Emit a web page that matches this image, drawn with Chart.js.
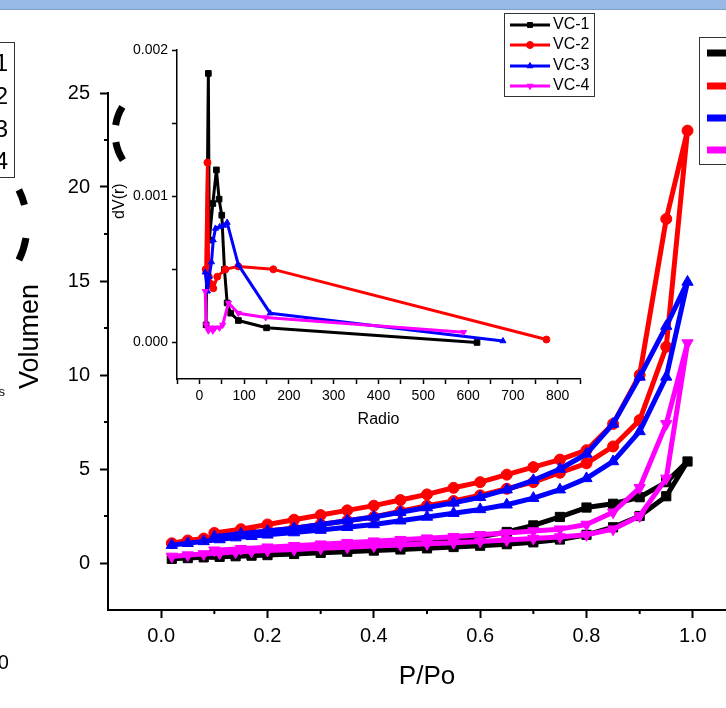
<!DOCTYPE html>
<html>
<head>
<meta charset="utf-8">
<script src="https://cdn.jsdelivr.net/npm/chart.js@4.4.0/dist/chart.umd.min.js"></script>
<style>
  body { margin: 0; width: 726px; height: 708px; overflow: hidden; background: #fff; position: relative;
         font-family: "Liberation Sans", Arial, sans-serif; }
  #bar { position: absolute; left: 0; top: 0; width: 726px; height: 9px; background: #97b9e4;
         border-bottom: 1px solid #7a9fd0; z-index: 10; }
  #main, #deco { position: absolute; left: 0; top: 0; }
  #inset { position: absolute; left: 100px; top: 11px; }
  #sideBox { position: absolute; left: -100px; top: 42px; width: 113px; height: 134px; border: 1px solid #333; }
  .side { position: absolute; left: -100px; width: 108px; text-align: right; font-size: 24px; line-height: 24px; color: #000; }
</style>
</head>
<body>
<div id="bar"></div>
<canvas id="main" width="760" height="708"></canvas>
<canvas id="deco" width="726" height="708"></canvas>
<canvas id="inset" width="500" height="424"></canvas>
<div id="sideBox"></div>
<div class="side" style="top:51px">VC-1</div>
<div class="side" style="top:84px">VC-2</div>
<div class="side" style="top:117px">VC-3</div>
<div class="side" style="top:149px">VC-4</div>
<div class="side" style="top:380px;font-size:13px;width:105px">s</div>
<div class="side" style="top:650px;font-size:20px;width:109px">1.0</div>
<script>
// isoterma: P/Po vs volumen (adsorcion y desorcion)
const pAds = [0.02,0.05,0.08,0.11,0.14,0.17,0.20,0.25,0.30,0.35,0.40,0.45,0.50,0.55,0.60,0.65,0.70,0.75,0.80,0.85,0.90,0.95,0.99];
const pDes = [0.95,0.90,0.85,0.80,0.75,0.70,0.65,0.60,0.55,0.50,0.45,0.40,0.35,0.30,0.25,0.20,0.15,0.10];

const vc1Ads = [0.22,0.26,0.3,0.33,0.36,0.39,0.42,0.48,0.54,0.6,0.66,0.72,0.78,0.85,0.92,1.0,1.1,1.25,1.5,1.9,2.5,3.55,5.4];
const vc1Des = [4.3,3.5,3.15,2.95,2.45,2.0,1.65,1.4,1.25,1.12,1.02,0.93,0.85,0.77,0.69,0.61,0.53,0.45];
const vc2Ads = [1.05,1.2,1.3,1.4,1.5,1.6,1.7,1.85,2.05,2.25,2.45,2.75,3.05,3.3,3.6,3.95,4.3,4.8,5.3,6.2,7.6,11.5,23.0];
const vc2Des = [18.3,10.0,7.4,6.0,5.5,5.1,4.7,4.3,4.0,3.65,3.35,3.05,2.8,2.55,2.3,2.05,1.8,1.6];
const vc3Ads = [0.95,1.05,1.15,1.25,1.35,1.42,1.5,1.62,1.75,1.9,2.05,2.25,2.45,2.65,2.85,3.1,3.45,3.9,4.5,5.4,7.0,9.9,14.95];
const vc3Des = [12.6,9.9,7.4,5.8,5.0,4.4,3.9,3.5,3.2,2.95,2.7,2.45,2.25,2.05,1.85,1.7,1.55,1.4];
const vc4Ads = [0.35,0.42,0.48,0.53,0.58,0.62,0.66,0.72,0.78,0.84,0.9,0.96,1.02,1.08,1.15,1.22,1.3,1.38,1.5,1.8,2.5,4.5,11.7];
const vc4Des = [7.4,4.0,2.7,2.05,1.8,1.7,1.6,1.5,1.4,1.32,1.24,1.16,1.08,1.0,0.92,0.84,0.76,0.68];

// inserto: distribucion de poros dV(r) vs radio
const radio1 = [15,20,22,30,38,44,50,56,62,70,87,150,620];
const dv1 = [0.00012,0.00184,0.0007,0.00095,0.00118,0.00098,0.00087,0.0005,0.00027,0.0002,0.00015,0.0001,0.0];
const radio2 = [14,18,21,26,31,40,58,87,165,775];
const dv2 = [0.0005,0.00123,0.00045,0.0004,0.00037,0.00045,0.0005,0.00052,0.0005,0.00002];
const radio3 = [13,18,22,27,31,36,45,54,62,87,158,678];
const dv3 = [0.00048,0.00035,0.00045,0.00055,0.0007,0.00078,0.00079,0.0008,0.00082,0.00053,0.0002,0.00001];
const radio4 = [13,15,20,25,30,35,45,52,65,87,148,590];
const dv4 = [0.00035,0.00012,0.00008,0.0001,0.00008,0.0001,0.0001,0.00012,0.00027,0.0002,0.00017,0.00007];

const labels = ['VC-1','VC-2','VC-3','VC-4'];
const xTicks = [0,0.2,0.4,0.6,0.8,1.0];
const yTicks = [0,5,10,15,20,25];
const radioTicks = [-50,0,50,100,150,200,250,300,350,400,450,500,550,600,650,700,750,800,850];
const dvTicks = [0,0.0005,0.001,0.0015,0.002];

const colores = ['#000000','#ff0000','#0000ff','#ff00ff'];
const simbolos = ['rect','circle','triangle','triangle'];
const giros = [0,0,0,180];
const orden = [3,2,1,0];

const pares = (xs, ys) => xs.map((x, i) => ({x: x, y: ys[i]}));

const isoterma = [
  pares(pAds, vc1Ads).concat(pares(pDes, vc1Des)),
  pares(pAds, vc2Ads).concat(pares(pDes, vc2Des)),
  pares(pAds, vc3Ads).concat(pares(pDes, vc3Des)),
  pares(pAds, vc4Ads).concat(pares(pDes, vc4Des))
];
const poros = [pares(radio1, dv1), pares(radio2, dv2), pares(radio3, dv3), pares(radio4, dv4)];

// leyenda dibujada a mano
const leyenda = {
  id: 'leyenda',
  afterDraw(chart, args, o) {
    const ctx = chart.ctx;
    ctx.save();
    ctx.strokeStyle = '#333';
    ctx.lineWidth = 1;
    ctx.strokeRect(o.box[0] + 0.5, o.box[1] + 0.5, o.box[2], o.box[3]);
    chart.data.datasets.forEach((ds, i) => {
      const y = o.rows[i];
      ctx.strokeStyle = ds.borderColor;
      ctx.lineWidth = o.lineWidth;
      ctx.beginPath();
      ctx.moveTo(o.line[0], y);
      ctx.lineTo(o.line[1], y);
      ctx.stroke();
      ctx.fillStyle = ds.borderColor;
      ctx.lineWidth = 1;
      Chart.helpers.drawPoint(ctx, {pointStyle: ds.pointStyle, rotation: ds.pointRotation, radius: o.radius, borderWidth: 1},
        (o.line[0] + o.line[1]) / 2, y);
      ctx.fillStyle = '#000';
      ctx.font = o.font;
      ctx.textBaseline = 'middle';
      ctx.fillText(ds.label, o.textX, y);
    });
    ctx.restore();
  }
};

// ticks menores
const menores = {
  id: 'menores',
  afterDraw(chart, args, o) {
    const ctx = chart.ctx;
    ctx.save();
    ctx.strokeStyle = '#000';
    ctx.lineWidth = 2;
    Object.keys(o.scales).forEach(id => {
      const s = chart.scales[id];
      o.scales[id].forEach(v => {
        const p = s.getPixelForValue(v);
        ctx.beginPath();
        if (s.isHorizontal()) { ctx.moveTo(p, s.top); ctx.lineTo(p, s.top + o.length); }
        else { ctx.moveTo(s.right, p); ctx.lineTo(s.right - o.length, p); }
        ctx.stroke();
      });
    });
    ctx.restore();
  }
};

const fuente = '"Liberation Sans", Arial, sans-serif';
Chart.defaults.font.family = fuente;
Chart.defaults.color = '#000';

new Chart(document.getElementById('main'), {
  type: 'line',
  data: {
    datasets: isoterma.map((d, i) => ({
      label: labels[i], data: d, order: orden[i],
      borderColor: colores[i], backgroundColor: colores[i], pointBackgroundColor: colores[i],
      borderWidth: 5, borderJoinStyle: 'round', borderCapStyle: 'round',
      pointStyle: simbolos[i], pointRotation: giros[i],
      pointRadius: simbolos[i] === 'rect' ? 6.5 : (simbolos[i] === 'circle' ? 5.5 : 6.5),
      pointBorderWidth: 1, tension: 0, fill: false
    }))
  },
  options: {
    responsive: false, animation: false,
    layout: {padding: {top: 93, right: 14, left: 0, bottom: 0}},
    plugins: {
      legend: {display: false}, tooltip: {enabled: false},
      leyenda: {box: [699, 37, 100, 127], rows: [53, 86, 118, 150], line: [707, 770], textX: 780,
                lineWidth: 7, radius: 6, font: '16px ' + fuente},
      menores: {length: 4, scales: {x: [0.1, 0.3, 0.5, 0.7, 0.9], y: [2.5, 7.5, 12.5, 17.5, 22.5]}}
    },
    scales: {
      x: {
        type: 'linear', min: -0.1, max: 1.1,
        afterBuildTicks: s => { s.ticks = xTicks.map(v => ({value: v})); },
        afterFit: s => { s.height = 98; },
        ticks: {font: {size: 20}, padding: 6, maxRotation: 0, autoSkip: false, callback: v => v.toFixed(1)},
        grid: {drawOnChartArea: false, tickLength: 8, tickColor: '#000', tickWidth: 2},
        border: {color: '#000', width: 2},
        title: {display: true, text: 'P/Po', font: {size: 26}, padding: {top: 0, bottom: 16}}
      },
      y: {
        type: 'linear', min: -2.5, max: 25,
        afterBuildTicks: s => { s.ticks = yTicks.map(v => ({value: v})); },
        afterFit: s => { s.width = 108; },
        ticks: {font: {size: 20}, padding: 10, autoSkip: false},
        grid: {drawOnChartArea: false, tickLength: 8, tickColor: '#000', tickWidth: 2},
        border: {color: '#000', width: 2},
        title: {display: true, text: '    Volumen', font: {size: 27}, padding: {top: 14, bottom: 0}}
      }
    }
  },
  plugins: [leyenda, menores]
});

// trozos de circulos punteados de la figura vecina
const deco = document.getElementById('deco').getContext('2d');
deco.strokeStyle = '#000';
deco.lineWidth = 7;
[[165, 133, 50, 3.30, 3.69], [165, 133, 50, 2.57, 2.96], [-53, 225, 80, -0.455, -0.253], [-53, 225, 80, 0.163, 0.453]]
  .forEach(a => { deco.beginPath(); deco.arc(a[0], a[1], a[2], a[3], a[4]); deco.stroke(); });

new Chart(document.getElementById('inset'), {
  type: 'line',
  data: {
    datasets: poros.map((d, i) => ({
      label: labels[i], data: d, order: orden[i],
      borderColor: colores[i], backgroundColor: colores[i], pointBackgroundColor: colores[i],
      borderWidth: 3, borderJoinStyle: 'round',
      pointStyle: simbolos[i], pointRotation: giros[i],
      pointRadius: simbolos[i] === 'rect' ? 4 : 3.5,
      pointBorderWidth: 1, tension: 0, fill: false
    }))
  },
  options: {
    responsive: false, animation: false,
    layout: {padding: {top: 39, right: 20, left: 0, bottom: 0}},
    plugins: {
      legend: {display: false}, tooltip: {enabled: false},
      leyenda: {box: [404, 2, 90, 83], rows: [14, 34, 55, 75], line: [410, 450], textX: 453,
                lineWidth: 3, radius: 3.5, font: '16px ' + fuente}
    },
    scales: {
      x: {
        type: 'linear', min: -50, max: 850,
        afterBuildTicks: s => { s.ticks = radioTicks.map(v => ({value: v})); },
        afterFit: s => { s.height = 56; },
        ticks: {font: {size: 14}, padding: 4, maxRotation: 0, autoSkip: false,
                callback: v => (v >= 0 && v % 100 === 0) ? String(v) : ''},
        grid: {drawOnChartArea: false, tickLength: 5, tickColor: '#000', tickWidth: 1.5},
        border: {color: '#000', width: 1.5},
        title: {display: true, text: 'Radio', font: {size: 16}, padding: {top: 0, bottom: 6}}
      },
      y: {
        type: 'linear', min: -0.00025, max: 0.002,
        afterBuildTicks: s => { s.ticks = dvTicks.map(v => ({value: v})); },
        afterFit: s => { s.width = 77; },
        ticks: {font: {size: 14}, padding: 4, autoSkip: false,
                callback: v => (Math.round(v * 2000) % 2 === 0) ? v.toFixed(3) : ''},
        grid: {drawOnChartArea: false, tickLength: 5, tickColor: '#000', tickWidth: 1.5},
        border: {color: '#000', width: 1.5},
        title: {display: true, text: '      dV(r)', font: {size: 16}, padding: {top: 10, bottom: 0}}
      }
    }
  },
  plugins: [leyenda]
});
</script>
</body>
</html>
